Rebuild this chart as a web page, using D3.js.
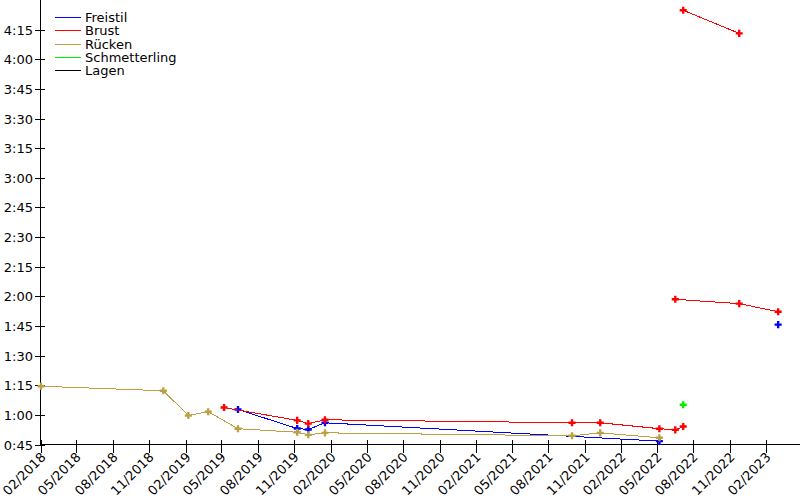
<!DOCTYPE html>
<html>
<head>
<meta charset="utf-8">
<script src="https://cdn.jsdelivr.net/npm/d3@7"></script>
<style>
  html, body { margin: 0; padding: 0; background: #fff; }
  svg { display: block; font-family: "DejaVu Sans", sans-serif; }
</style>
</head>
<body>
<div id="chart"></div>
<script>
// series names (legend order)
const SERIES = ['Freistil', 'Brust', 'Rücken', 'Schmetterling', 'Lagen'];

// times in seconds, one array per distance
const freistil50 = [
  ['2019-06-12', 62.7], ['2019-11-08', 53.1], ['2019-12-06', 52.6],
  ['2020-01-17', 56.0], ['2022-05-08', 46.7],
];
const freistil100 = [['2023-03-03', 105.7]];

const brust50 = [
  ['2019-05-08', 63.7], ['2019-11-08', 57.2], ['2019-12-06', 55.6],
  ['2020-01-17', 57.5], ['2021-09-30', 56.0], ['2021-12-10', 56.0],
  ['2022-05-08', 53.0], ['2022-06-17', 52.4], ['2022-07-07', 54.1],
];
const brust100 = [['2022-06-17', 118.5], ['2022-11-25', 116.3], ['2023-03-03', 112.2]];
const brust200 = [['2022-07-07', 264.8], ['2022-11-25', 253.1]];

const ruecken50 = [
  ['2018-02-01', 74.5], ['2018-12-06', 72.2], ['2019-02-07', 59.7],
  ['2019-03-29', 61.6], ['2019-06-12', 53.0], ['2019-11-08', 51.2],
  ['2019-12-06', 49.9], ['2020-01-17', 50.9], ['2021-09-30', 49.4],
  ['2021-12-10', 50.9], ['2022-05-08', 48.4],
];

const schmetterling50 = [['2022-07-07', 65.1]];

const lagen = [];

const LINES = [
  { name: 'Freistil', data: [freistil50, freistil100] },
  { name: 'Brust', data: [brust50, brust100, brust200] },
  { name: 'Rücken', data: [ruecken50] },
  { name: 'Schmetterling', data: [schmetterling50] },
  { name: 'Lagen', data: [lagen] },
];

// axis ticks
const X_TICKS = [
  '2018-02-01', '2018-05-01', '2018-08-01', '2018-11-01',
  '2019-02-01', '2019-05-01', '2019-08-01', '2019-11-01',
  '2020-02-01', '2020-05-01', '2020-08-01', '2020-11-01',
  '2021-02-01', '2021-05-01', '2021-08-01', '2021-11-01',
  '2022-02-01', '2022-05-01', '2022-08-01', '2022-11-01',
  '2023-02-01',
];
const Y_TICKS = [45, 60, 75, 90, 105, 120, 135, 150, 165, 180, 195, 210, 225, 240, 255];

const COLORS = {
  'Freistil': '#0000ff',
  'Brust': '#ff0000',
  'Rücken': '#bca044',
  'Schmetterling': '#00f000',
  'Lagen': '#000000',
};

const parse = d3.utcParse('%Y-%m-%d');
const w = 800, h = 500;

const svg = d3.select('#chart').append('svg')
  .attr('width', w).attr('height', h);

const x = d3.scaleUtc()
  .domain([parse('2018-02-01'), parse('2023-04-27')])
  .range([41, 800]);

const y = d3.scaleLinear()
  .domain([45, 270])
  .range([444.5, 0]);

const fmtTime = s => Math.floor(s / 60) + ':' + String(Math.round(s % 60)).padStart(2, '0');

// x axis
const xa = svg.append('g').attr('shape-rendering', 'crispEdges');
xa.append('line')
  .attr('x1', 41).attr('x2', 800)
  .attr('y1', 444.5).attr('y2', 444.5)
  .attr('stroke', '#000');
X_TICKS.forEach(t => {
  const px = Math.round(x(parse(t))) + 0.5;
  xa.append('line')
    .attr('x1', px).attr('x2', px)
    .attr('y1', 440).attr('y2', 453)
    .attr('stroke', '#000');
  xa.append('text')
    .attr('transform', `translate(${px + 5},458) rotate(-45)`)
    .attr('text-anchor', 'end')
    .attr('font-size', '13px')
    .attr('fill', '#000')
    .text(d3.utcFormat('%m/%Y')(parse(t)));
});

// y axis
const ya = svg.append('g').attr('shape-rendering', 'crispEdges');
ya.append('line')
  .attr('x1', 40.5).attr('x2', 40.5)
  .attr('y1', 0).attr('y2', 445)
  .attr('stroke', '#000');
Y_TICKS.forEach(t => {
  const py = Math.round(y(t)) + 0.5;
  ya.append('line')
    .attr('x1', 35).attr('x2', 45)
    .attr('y1', py).attr('y2', py)
    .attr('stroke', '#000');
  ya.append('text')
    .attr('x', 33).attr('y', py)
    .attr('dy', '0.35em')
    .attr('text-anchor', 'end')
    .attr('font-size', '13px')
    .attr('fill', '#000')
    .text(fmtTime(t));
});

// lines + markers
const line = d3.line()
  .x(d => x(parse(d[0])))
  .y(d => y(d[1]));

const plot = svg.append('g');
LINES.forEach(s => {
  s.data.forEach(seg => {
    if (!seg.length) return;
    if (seg.length > 1) {
      plot.append('path')
        .datum(seg)
        .attr('fill', 'none')
        .attr('stroke', COLORS[s.name])
        .attr('stroke-width', 1)
        .attr('shape-rendering', 'crispEdges')
        .attr('d', line);
    }
    plot.selectAll(null)
      .data(seg)
      .join('path')
      .attr('transform', d => `translate(${x(parse(d[0]))},${y(d[1])})`)
      .attr('d', d3.symbol(d3.symbolCross, 28))
      .attr('fill', COLORS[s.name]);
  });
});

// legend
const lg = svg.append('g');
SERIES.forEach((name, i) => {
  const ly = 17.5 + i * 13.3;
  lg.append('line')
    .attr('x1', 55).attr('x2', 81)
    .attr('y1', ly).attr('y2', ly)
    .attr('stroke', COLORS[name])
    .attr('stroke-width', 1)
    .attr('shape-rendering', 'crispEdges');
  lg.append('text')
    .attr('x', 85).attr('y', ly)
    .attr('dy', '0.35em')
    .attr('font-size', '13px')
    .attr('fill', '#000')
    .text(name);
});
</script>
</body>
</html>
